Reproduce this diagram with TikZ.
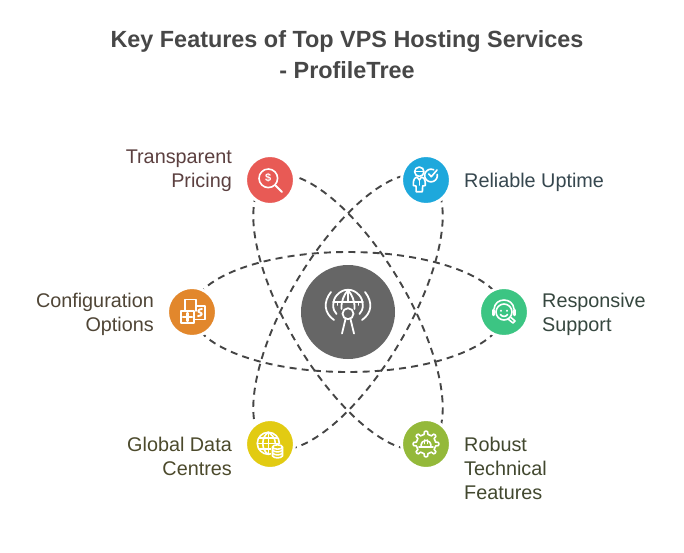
\documentclass[tikz,border=0pt]{standalone}
\usepackage{fontspec}
\setmainfont{Liberation Sans}
\definecolor{cRed}{HTML}{E85A55}
\definecolor{cBlue}{HTML}{1EA8DC}
\definecolor{cOrange}{HTML}{E2872C}
\definecolor{cGreen}{HTML}{3CC583}
\definecolor{cYellow}{HTML}{E2CB12}
\definecolor{cLime}{HTML}{94B93A}
\definecolor{cHub}{HTML}{666666}
\definecolor{cLine}{HTML}{454545}
\definecolor{tRed}{HTML}{5C4040}
\definecolor{tBlue}{HTML}{36474F}
\definecolor{tOrange}{HTML}{4F4536}
\definecolor{tGreen}{HTML}{36473F}
\definecolor{tYellow}{HTML}{4C4A2C}
\definecolor{tLime}{HTML}{42482F}
\tikzset{
  orbit/.style={draw=cLine,line width=1.9pt,dash pattern=on 7pt off 5.2pt},
  sat/.style={circle,draw=white,line width=3pt,minimum size=49pt,inner sep=0pt},
  icon/.style={draw=white,line width=1.6pt,line cap=round,line join=round},
  hubicon/.style={draw=white,line width=1.8pt,line cap=round,line join=round},
  lab/.style={font=\fontsize{19.8}{24}\selectfont,inner sep=0pt},
  titletext/.style={font=\fontsize{23.4}{31}\selectfont\bfseries,text=black!72,align=center,inner sep=0pt}
}
\begin{document}
\begin{tikzpicture}[x=1pt,y=-1pt]
\useasboundingbox (0,0) rectangle (684,552);
\fill[white] (0,0) rectangle (684,552);
\node[titletext] (title) at (347,55) {Key Features of Top VPS Hosting Services\\- ProfileTree};
% orbits
\draw[orbit] (348,312) ellipse [x radius=156pt,y radius=60pt];
\draw[orbit,rotate around={59.4:(348,312)}] (348,312) ellipse [x radius=156pt,y radius=60pt];
\draw[orbit,rotate around={-59.4:(348,312)}] (348,312) ellipse [x radius=156pt,y radius=60pt];
% nodes
\node[circle,fill=cHub,minimum size=94pt,inner sep=0pt] (hub) at (348,312) {};
\node[sat,fill=cRed] (red) at (270,180) {};
\node[sat,fill=cBlue] (blue) at (426,180) {};
\node[sat,fill=cOrange] (orange) at (192,312) {};
\node[sat,fill=cGreen] (green) at (504,312) {};
\node[sat,fill=cYellow] (yellow) at (270,444) {};
\node[sat,fill=cLime] (lime) at (426,444) {};
% labels
\node[lab,anchor=east,align=right,text=tRed] (l1) at (232,170.5) {Transparent\\Pricing};
\node[lab,anchor=west,align=left,text=tBlue] (l2) at (464,182.5) {Reliable Uptime};
\node[lab,anchor=east,align=right,text=tOrange] (l3) at (154,314.5) {Configuration\\Options};
\node[lab,anchor=west,align=left,text=tGreen] (l4) at (542,314.5) {Responsive\\Support};
\node[lab,anchor=east,align=right,text=tYellow] (l5) at (232,456) {Global Data\\Centres};
\node[lab,anchor=west,align=left,text=tLime] (l6) at (464,468) {Robust\\Technical\\Features};
% hub icon
\begin{scope}[shift={(hub.center)},hubicon]
  \draw (-11.5,2) .. controls (-16,-2) and (-16,-12) .. (-11,-17) .. controls (-5,-24) and (5,-24) .. (11,-17) .. controls (16,-12) and (16,-2) .. (11.5,2);
  \draw (-15,-10) -- (15,-10);
  \draw (-6.5,-3) .. controls (-7,-11) and (-4,-17) .. (0,-22) .. controls (4,-17) and (7,-11) .. (6.5,-3);
  \draw (0,-22) -- (0,-10);
  \draw (-10.5,-10) -- (-10.5,-7) (10.5,-10) -- (10.5,-7);
  \draw (0,1.7) circle (5.5pt);
  \draw (-2.5,7) -- (-6,21.5) (2.5,7) -- (6,21.5);
  \draw (-17,-20) .. controls (-25,-10) and (-24,1) .. (-14,8);
  \draw (17,-20) .. controls (25,-10) and (24,1) .. (14,8);
\end{scope}
% red icon
\begin{scope}[shift={(red.center)},icon]
  \draw (-1.7,-1.7) circle (9.3pt);
  \draw[line width=2pt] (5.5,5.5) -- (12,12);
  \node[text=white,font=\fontsize{11}{11}\selectfont\bfseries,inner sep=0pt] (dollar) at (-1.7,-1.7) {\$};
\end{scope}
% blue icon
\begin{scope}[shift={(blue.center)},icon]
  \draw (-6.7,-8.3) circle (4.7pt);
  \draw (-11,-8.5) -- (-2.5,-8.5);
  \draw (-9,-3) .. controls (-13,-2) and (-12.7,3) .. (-12.7,5.5) -- (-10,6) -- (-9.8,11.7) -- (-3.6,11.7) -- (-3.4,6) -- (-0.7,5.5) .. controls (-0.7,3) and (-0.4,-2) .. (-4.4,-3) -- (-6.7,0) -- cycle;
  \draw (-6.7,0) -- (-6.7,5);
  \draw plot[domain=65:370,samples=30,smooth] ({5+6.3*cos(\x)},{-4.5-6.3*sin(\x)});
  \draw (2.7,-6) -- (5.3,-3.3) -- (11,-10);
\end{scope}
% orange icon
\begin{scope}[shift={(orange.center)},icon]
  \draw (-7,-1) -- (-7,-12.5) -- (4,-12.5) -- (4,-1);
  \draw (4,-6) -- (13,-6) -- (13,7.5) -- (3,7.5);
  \draw (-11,-1) -- (2,-1) -- (2,11) -- (-11,11) -- cycle;
  \draw[line width=2.2pt] (-4.5,1) -- (-4.5,9) (-9,5) -- (0,5);
  \draw[line width=1.9pt] (10,-3) .. controls (6,-3) and (5,0) .. (8,0.5) .. controls (11,1) and (10,4) .. (6,4);
\end{scope}
% green icon
\begin{scope}[shift={(green.center)},icon]
  \draw (0,0) circle (8pt);
  \draw (-10,-3) .. controls (-9,-15) and (9,-15) .. (10,-3);
  \draw[line width=2.4pt] (-10.5,-2) -- (-10.5,3) (10.5,-2) -- (10.5,3);
  \draw (-3,-1.5) -- (-3,-1) (3,-1.5) -- (3,-1);
  \draw (-3.5,2.5) .. controls (-2,5) and (2,5) .. (3.5,2.5);
  \draw (4,7) -- (9,11) -- (11,9) -- (7,5.5);
\end{scope}
% yellow icon
\begin{scope}[shift={(yellow.center)},icon]
  \draw (-1.7,-0.7) circle (11pt);
  \draw (-12.7,-0.7) -- (9.3,-0.7);
  \draw (-11,-6) -- (7.5,-6) (-11,5) -- (2,5);
  \draw (-1.7,-11.7) -- (-1.7,10.3);
  \draw (-1.7,-11.7) .. controls (-9,-7) and (-9,6) .. (-1.7,10.3);
  \draw (-1.7,-11.7) .. controls (5.5,-7) and (5.5,-2) .. (5,0);
  \path[fill=cYellow,draw=none] (1,0) rectangle (14,15);
  \draw[fill=cYellow] (2.5,3) -- (2.5,12) .. controls (4,14.5) and (11,14.5) .. (12.5,12) -- (12.5,3);
  \draw (7.5,3) ellipse [x radius=5pt,y radius=2.2pt];
  \draw (2.5,6) .. controls (4,8.5) and (11,8.5) .. (12.5,6);
  \draw (2.5,9) .. controls (4,11.5) and (11,11.5) .. (12.5,9);
\end{scope}
% lime icon
\begin{scope}[shift={(lime.center)},icon]
  \draw (-11.25:9.5) \foreach \a in {0,45,...,315} { -- (\a-11.25:9.8) .. controls (\a-8:12.8) .. (\a+0:13) .. controls (\a+8:12.8) .. (\a+11.25:9.8) .. controls (\a+22.5:9) .. (\a+33.75:9.8) } -- cycle;
  \draw (-7,3) -- (7,3);
  \draw (-5,3) .. controls (-5.5,-6) and (5.5,-6) .. (5,3);
  \draw (-1.6,-4) -- (-1.6,-0.5) (1.6,-4) -- (1.6,-0.5);
\end{scope}
\end{tikzpicture}
\end{document}
